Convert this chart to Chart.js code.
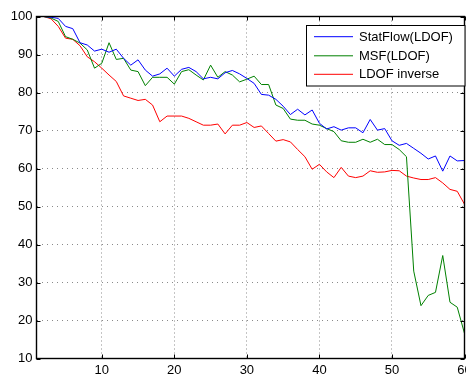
<!DOCTYPE html>
<html>
<head>
<meta charset="utf-8">
<script src="https://cdn.jsdelivr.net/npm/chart.js@4.4.0/dist/chart.umd.min.js"></script>
<style>
  html, body { margin: 0; padding: 0; background: #fff; overflow: hidden; }
  #wrap { width: 466px; height: 376px; }
</style>
</head>
<body>
<div id="wrap"><canvas id="c" width="466" height="376"></canvas></div>
<script>
// Frame index 1..60
const frames = Array.from({ length: 60 }, (_, i) => i + 1);

const statFlow = [
  100, 100, 99.8, 99.5, 97.4, 96.8, 93.1, 92.5, 90.9, 91.4,
  90.6, 91.4, 89.0, 87.2, 88.6, 85.9, 84.3, 84.9, 86.4, 84.3,
  86.1, 86.6, 85.5, 83.6, 84.0, 83.6, 85.2, 85.8, 84.9, 83.7,
  82.4, 79.5, 79.3, 78.2, 76.4, 74.2, 75.6, 74.1, 75.4, 71.9,
  70.4, 71.0, 70.1, 70.7, 70.7, 69.4, 72.9, 70.1, 70.5, 67.3,
  66.1, 66.6, 65.3, 64.0, 62.5, 63.3, 59.3, 63.3, 62.0, 62.1
];

const msf = [
  100, 100, 99.6, 98.7, 94.7, 94.0, 93.0, 91.2, 86.4, 87.7,
  93.1, 88.7, 89.0, 85.9, 85.5, 81.8, 84.0, 84.0, 84.0, 82.2,
  85.5, 86.0, 84.6, 83.3, 87.2, 84.0, 85.5, 84.6, 82.8, 83.5,
  84.3, 82.1, 82.1, 76.7, 75.8, 73.0, 72.7, 72.7, 71.7, 71.4,
  70.5, 69.7, 67.3, 66.9, 66.9, 67.7, 66.9, 67.7, 66.3, 66.3,
  65.0, 63.1, 33.0, 23.9, 26.6, 27.4, 37.1, 24.8, 23.5, 16.6
];

const ldofInverse = [
  100, 100, 99.4, 97.4, 94.3, 94.0, 92.3, 89.4, 88.1, 86.4,
  84.6, 82.9, 79.1, 78.5, 77.9, 78.2, 76.7, 72.3, 73.8, 73.8,
  73.8, 73.2, 72.3, 71.4, 71.4, 71.7, 69.1, 71.4, 71.4, 72.1,
  70.8, 71.2, 69.2, 67.2, 67.6, 67.0, 65.0, 63.1, 59.8, 61.1,
  59.1, 57.6, 60.3, 58.0, 57.6, 58.0, 59.4, 59.0, 59.1, 59.5,
  59.4, 58.0, 57.5, 57.1, 57.1, 57.6, 56.2, 54.5, 54.0, 50.6
];

const seriesNames = ['StatFlow(LDOF)', 'MSF(LDOF)', 'LDOF inverse'];
const seriesColors = ['#0000ff', '#008000', '#ff0000'];

const xTicks = [10, 20, 30, 40, 50, 60];
const yTicks = [10, 20, 30, 40, 50, 60, 70, 80, 90, 100];

const FONT = 'Liberation Sans, Arial, Helvetica, sans-serif';

function toPoints(values) {
  return values.map((v, i) => ({ x: frames[i], y: v }));
}

// Box, inward tick marks and the legend panel, in the style of a MATLAB axes
const axesBox = {
  id: 'axesBox',
  afterDatasetsDraw(chart) {
    const { ctx, chartArea: a, scales: { x, y } } = chart;
    ctx.save();
    ctx.strokeStyle = '#000';
    ctx.lineWidth = 1;
    ctx.beginPath();
    const tl = 4;
    xTicks.forEach(v => {
      const px = Math.round(x.getPixelForValue(v)) + 0.5;
      ctx.moveTo(px, a.bottom); ctx.lineTo(px, a.bottom - tl);
      ctx.moveTo(px, a.top); ctx.lineTo(px, a.top + tl);
    });
    yTicks.forEach(v => {
      const py = Math.round(y.getPixelForValue(v)) + 0.5;
      ctx.moveTo(a.left, py); ctx.lineTo(a.left + tl, py);
      ctx.moveTo(a.right, py); ctx.lineTo(a.right - tl, py);
    });
    ctx.stroke();
    ctx.lineWidth = 1.4;
    ctx.strokeRect(a.left, a.top, a.right - a.left, a.bottom - a.top);

    // legend
    const lx = 306.5, ly = 25.5, lw = 158.5, lh = 60.5;
    ctx.fillStyle = '#fff';
    ctx.fillRect(lx, ly, lw, lh);
    ctx.lineWidth = 1;
    ctx.strokeRect(lx, ly, lw, lh);
    ctx.font = '13px ' + FONT;
    ctx.textBaseline = 'middle';
    ctx.textAlign = 'left';
    const rows = [36.7, 55.8, 74.3];
    chart.data.datasets.forEach((ds, i) => {
      ctx.strokeStyle = ds.borderColor;
      ctx.beginPath();
      ctx.moveTo(314, rows[i]);
      ctx.lineTo(353, rows[i]);
      ctx.stroke();
      ctx.fillStyle = '#000';
      ctx.fillText(ds.label, 359, rows[i] + 0.5);
    });
    ctx.restore();
  }
};

new Chart(document.getElementById('c'), {
  type: 'line',
  data: {
    datasets: [
      { label: seriesNames[0], data: toPoints(statFlow), borderColor: seriesColors[0] },
      { label: seriesNames[1], data: toPoints(msf), borderColor: seriesColors[1] },
      { label: seriesNames[2], data: toPoints(ldofInverse), borderColor: seriesColors[2] }
    ].map(d => Object.assign(d, { borderWidth: 1, pointRadius: 0, fill: false, tension: 0 }))
  },
  options: {
    responsive: false,
    animation: false,
    devicePixelRatio: 1,
    layout: { padding: { top: 16.5, right: 1.5, bottom: 0, left: 0 } },
    plugins: { legend: { display: false }, tooltip: { enabled: false } },
    scales: {
      x: {
        type: 'linear',
        min: 1,
        max: 60,
        afterBuildTicks: s => { s.ticks = xTicks.map(v => ({ value: v })); },
        afterFit: s => { s.height = 17.5; s.paddingLeft = 0; s.paddingRight = 0; },
        grid: { color: '#8a8a8a', lineWidth: 1, drawTicks: false },
        border: { display: false, dash: [1, 3] },
        ticks: { color: '#000', font: { family: FONT, size: 13 }, padding: 4, maxRotation: 0, autoSkip: false }
      },
      y: {
        min: 10,
        max: 100,
        afterBuildTicks: s => { s.ticks = yTicks.map(v => ({ value: v })); },
        afterFit: s => { s.width = 36.5; s.paddingTop = 0; s.paddingBottom = 0; },
        grid: { color: '#8a8a8a', lineWidth: 1, drawTicks: false },
        border: { display: false, dash: [1, 4] },
        ticks: { color: '#000', font: { family: FONT, size: 13 }, padding: 4 }
      }
    }
  },
  plugins: [axesBox]
});
</script>
</body>
</html>
